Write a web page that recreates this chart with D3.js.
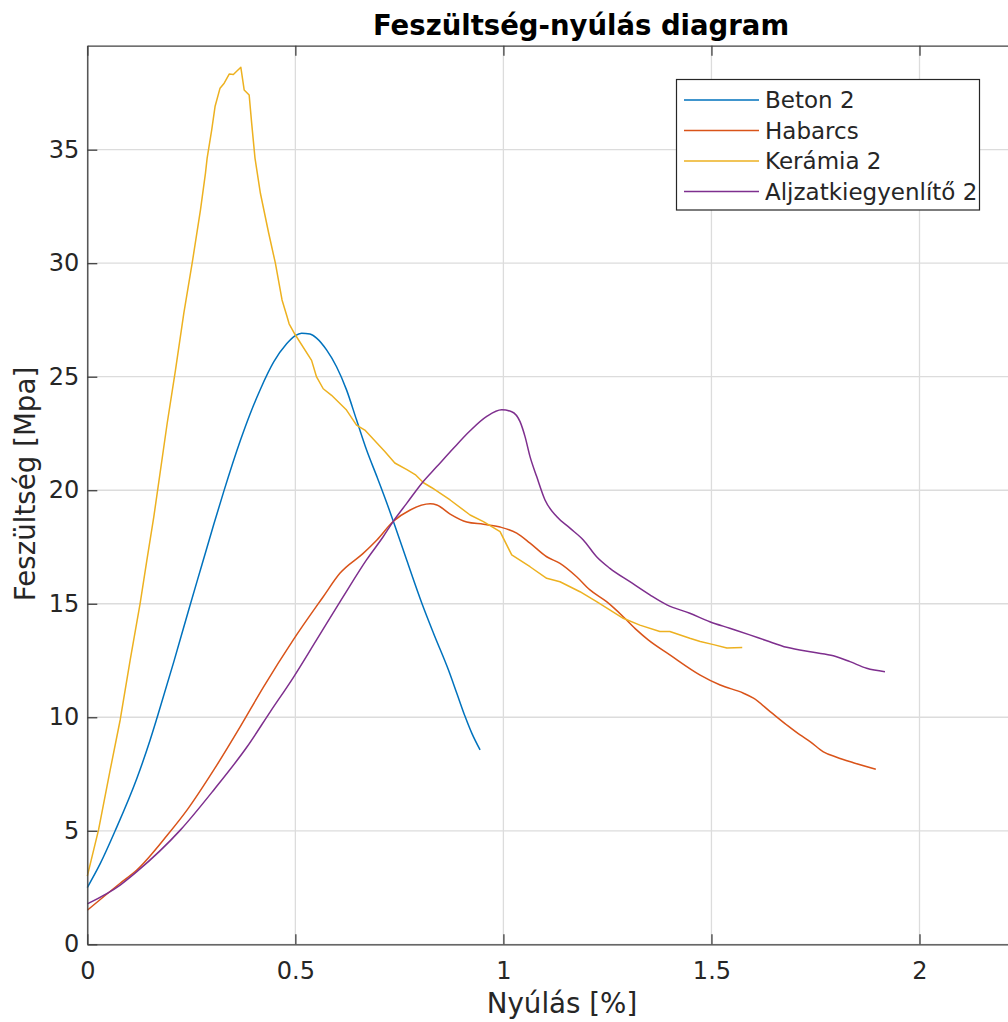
<!DOCTYPE html>
<html>
<head>
<meta charset="utf-8">
<script src="https://cdn.jsdelivr.net/npm/d3@7"></script>
<style>
  html, body { margin: 0; padding: 0; background: #fff; overflow: hidden; }
  svg { display: block; }
  text { font-family: "DejaVu Sans", sans-serif; fill: #262626; }
</style>
</head>
<body>
<svg id="chart" width="1008" height="1022"></svg>
<script>
// ---- data (strain %, stress MPa) ----
const seriesNames = ["Beton 2", "Habarcs", "Kerámia 2", "Aljzatkiegyenlítő 2"];
const seriesColors = ["#0072BD", "#D95319", "#EDB120", "#7E2F8E"];

const betonX = [0, 0.031, 0.067, 0.119, 0.151, 0.168, 0.208, 0.244, 0.276, 0.304, 0.328, 0.368, 0.391, 0.416, 0.448, 0.479, 0.499, 0.515, 0.535, 0.551, 0.575, 0.599, 0.623, 0.647, 0.671, 0.696, 0.720, 0.739, 0.768, 0.804, 0.832, 0.868, 0.888, 0.908, 0.924, 0.944];
const betonY = [2.50, 3.55, 5.0, 7.3, 9.0, 10.0, 12.45, 14.75, 16.75, 18.5, 19.95, 22.2, 23.35, 24.45, 25.65, 26.45, 26.8, 26.92, 26.88, 26.70, 26.18, 25.44, 24.42, 23.10, 21.78, 20.60, 19.43, 18.45, 16.90, 15.02, 13.70, 12.08, 11.06, 10.03, 9.30, 8.56];

const habarcsX = [0, 0.079, 0.119, 0.192, 0.240, 0.304, 0.368, 0.424, 0.495, 0.567, 0.607, 0.663, 0.696, 0.735, 0.776, 0.824, 0.840, 0.872, 0.912, 0.952, 0.992, 1.032, 1.064, 1.104, 1.136, 1.176, 1.208, 1.248, 1.288, 1.320, 1.348, 1.40, 1.473, 1.521, 1.577, 1.601, 1.641, 1.681, 1.713, 1.737, 1.769, 1.801, 1.841, 1.895];
const habarcsY = [1.50, 2.69, 3.27, 4.8, 5.92, 7.68, 9.6, 11.35, 13.41, 15.31, 16.34, 17.22, 17.81, 18.62, 19.13, 19.40, 19.35, 18.95, 18.60, 18.50, 18.38, 18.11, 17.67, 17.07, 16.78, 16.19, 15.61, 15.09, 14.43, 13.85, 13.41, 12.75, 11.86, 11.42, 11.06, 10.84, 10.25, 9.66, 9.22, 8.93, 8.48, 8.24, 8.00, 7.71];

const keramiaX = [0, 0.027, 0.055, 0.079, 0.103, 0.127, 0.143, 0.160, 0.192, 0.212, 0.232, 0.252, 0.272, 0.284, 0.288, 0.299, 0.307, 0.319, 0.329, 0.341, 0.351, 0.369, 0.377, 0.389, 0.395, 0.403, 0.416, 0.436, 0.452, 0.468, 0.480, 0.485, 0.499, 0.539, 0.551, 0.567, 0.587, 0.623, 0.647, 0.667, 0.715, 0.739, 0.768, 0.788, 0.808, 0.828, 0.872, 0.920, 0.952, 0.992, 1.020, 1.064, 1.104, 1.136, 1.184, 1.224, 1.288, 1.328, 1.376, 1.400, 1.448, 1.473, 1.505, 1.537, 1.574];
const keramiaY = [3.0, 5.04, 7.68, 9.88, 12.52, 15.02, 16.9, 18.85, 22.95, 25.30, 27.80, 30.0, 32.35, 33.97, 34.63, 35.87, 36.90, 37.71, 37.93, 38.33, 38.31, 38.63, 37.63, 37.41, 36.17, 34.63, 33.08, 31.32, 30.0, 28.38, 27.65, 27.33, 26.87, 25.72, 24.99, 24.47, 24.18, 23.53, 22.87, 22.65, 21.71, 21.20, 20.91, 20.69, 20.33, 20.11, 19.57, 18.91, 18.62, 18.18, 17.15, 16.63, 16.12, 15.97, 15.53, 15.09, 14.36, 14.06, 13.78, 13.78, 13.48, 13.34, 13.20, 13.05, 13.07];

const aljzatX = [0, 0.079, 0.119, 0.224, 0.304, 0.384, 0.440, 0.495, 0.551, 0.615, 0.671, 0.711, 0.735, 0.768, 0.804, 0.840, 0.880, 0.920, 0.960, 0.996, 1.020, 1.040, 1.052, 1.064, 1.080, 1.100, 1.128, 1.160, 1.192, 1.224, 1.256, 1.304, 1.352, 1.393, 1.448, 1.496, 1.544, 1.592, 1.633, 1.681, 1.745, 1.793, 1.833, 1.873, 1.917];
const aljzatY = [1.78, 2.61, 3.20, 5.04, 6.80, 8.7, 10.25, 11.75, 13.41, 15.31, 16.93, 17.95, 18.62, 19.43, 20.31, 21.04, 21.85, 22.62, 23.25, 23.54, 23.46, 23.02, 22.36, 21.48, 20.60, 19.57, 18.84, 18.33, 17.81, 17.07, 16.56, 15.97, 15.39, 14.95, 14.58, 14.21, 13.92, 13.63, 13.37, 13.08, 12.86, 12.71, 12.45, 12.16, 12.01];

const xTicks = [0, 0.5, 1, 1.5, 2];
const xTickLabels = ["0", "0.5", "1", "1.5", "2"];
const yTicks = [0, 5, 10, 15, 20, 25, 30, 35];
const yTickLabels = ["0", "5", "10", "15", "20", "25", "30", "35"];

const series = [
  { x: betonX, y: betonY },
  { x: habarcsX, y: habarcsY },
  { x: keramiaX, y: keramiaY },
  { x: aljzatX, y: aljzatY }
].map((s, i) => ({ name: seriesNames[i], color: seriesColors[i], pts: s.x.map((v, j) => [v, s.y[j]]) }));

// ---- layout ----
const L = 87.3, T = 45.7, B = 944.3;
const pxPerX = 416.1;
const xMax = 2.37;
const svg = d3.select("#chart");
const x = d3.scaleLinear().domain([0, xMax]).range([L, L + xMax * pxPerX]);
const y = d3.scaleLinear().domain([0, 39.58]).range([B, T]);
const R = x(xMax);

// grid
const grid = svg.append("g");
grid.selectAll(".gx").data(xTicks).join("line")
  .attr("x1", d => x(d)).attr("x2", d => x(d)).attr("y1", T).attr("y2", B)
  .attr("stroke", "#dcdcdc").attr("stroke-width", 1.3);
grid.selectAll(".gy").data(yTicks).join("line")
  .attr("x1", L).attr("x2", R).attr("y1", d => y(d)).attr("y2", d => y(d))
  .attr("stroke", "#dcdcdc").attr("stroke-width", 1.3);

// lines
const line = d3.line().x(d => x(d[0])).y(d => y(d[1])).curve(d3.curveMonotoneX);
const lineK = d3.line().x(d => x(d[0])).y(d => y(d[1])).curve(d3.curveLinear);
svg.append("g").selectAll("path").data(series).join("path")
  .attr("d", (d, i) => (i === 2 ? lineK : line)(d.pts))
  .attr("fill", "none").attr("stroke", d => d.color).attr("stroke-width", 1.5)
  .attr("stroke-linejoin", "round");

// axes (ticks inward)
const axisColor = "#404040";
const xAxis = d3.axisBottom(x).tickValues(xTicks).tickFormat((d, i) => xTickLabels[i]).tickSizeInner(-10).tickSizeOuter(0).tickPadding(18);
const gx = svg.append("g").attr("transform", `translate(0,${B})`).call(xAxis);
const xTop = d3.axisTop(x).tickValues(xTicks).tickFormat("").tickSizeInner(-10).tickSizeOuter(0);
const gxt = svg.append("g").attr("transform", `translate(0,${T})`).call(xTop);
const yAxis = d3.axisLeft(y).tickValues(yTicks).tickFormat((d, i) => yTickLabels[i]).tickSizeInner(-10).tickSizeOuter(0).tickPadding(8);
const gy = svg.append("g").attr("transform", `translate(${L},0)`).call(yAxis);
[gx, gxt, gy].forEach(g => {
  g.select(".domain").attr("stroke", axisColor).attr("stroke-width", 1.3);
  g.selectAll(".tick line").attr("stroke", axisColor).attr("stroke-width", 1.3);
  g.selectAll(".tick text").attr("font-size", 24).attr("font-family", "DejaVu Sans, sans-serif").attr("fill", "#262626");
});

// title & labels
svg.append("text").attr("x", 581).attr("y", 35).attr("text-anchor", "middle")
  .attr("font-size", 27.5).attr("font-weight", "bold").style("fill", "#000").text("Feszültség-nyúlás diagram");
svg.append("text").attr("x", 562).attr("y", 1013).attr("text-anchor", "middle")
  .attr("font-size", 27.7).text("Nyúlás [%]");
svg.append("text").attr("transform", `translate(35,484) rotate(-90)`).attr("text-anchor", "middle")
  .attr("font-size", 27.7).text("Feszültség [Mpa]");

// legend
const lg = svg.append("g");
lg.append("rect").attr("x", 676.5).attr("y", 79.5).attr("width", 303).attr("height", 130.5)
  .attr("fill", "#fff").attr("stroke", "#262626").attr("stroke-width", 1.2);
const rowY = [100, 130.5, 161, 191.5];
series.forEach((s, i) => {
  lg.append("line").attr("x1", 684).attr("x2", 759).attr("y1", rowY[i]).attr("y2", rowY[i])
    .attr("stroke", s.color).attr("stroke-width", 1.5);
  lg.append("text").attr("x", 765).attr("y", rowY[i]).attr("dy", "0.36em")
    .attr("font-size", 23).text(s.name);
});
</script>
</body>
</html>
